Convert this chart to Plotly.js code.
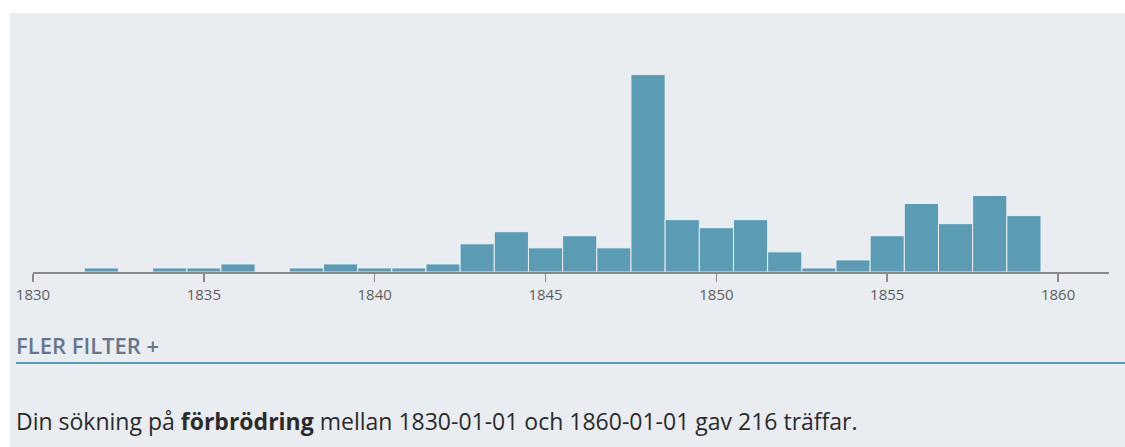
<!DOCTYPE html>
<html>
<head>
<meta charset="utf-8">
<script src="https://cdn.plot.ly/plotly-3.0.1.min.js"></script>
<style>
  html, body { margin: 0; padding: 0; background: #ffffff; width: 1125px; height: 447px; overflow: hidden; }
  #panel { position: absolute; left: 10px; top: 13px; width: 1115px; height: 434px; background: #e9ecf0; }
  #chart { position: absolute; left: 0; top: 0; width: 1115px; height: 434px; }
  #filter { position: absolute; left: 6px; top: 317px; font-family: "Open Sans", sans-serif; font-weight: 600; font-size: 22px; color: #67768a; line-height: normal; white-space: nowrap; }
  #rule { position: absolute; left: 6px; top: 349px; width: 1109px; height: 2px; background: #5d9db5; }
  #summary { position: absolute; left: 6px; top: 392px; font-family: "Open Sans", sans-serif; font-size: 23px; color: #2b2b2b; line-height: normal; white-space: nowrap; }
</style>
</head>
<body>
<div id="panel">
  <div id="chart"></div>
  <div id="filter">FLER FILTER +</div>
  <div id="rule"></div>
  <div id="summary">Din sökning på <b>förbrödring</b> mellan 1830-01-01 och 1860-01-01 gav 216 träffar.</div>
</div>
<script>
const years = [1832, 1834, 1835, 1836, 1838, 1839, 1840, 1841, 1842, 1843, 1844, 1845, 1846, 1847, 1848, 1849, 1850, 1851, 1852, 1853, 1854, 1855, 1856, 1857, 1858, 1859];
const hits  = [1, 1, 1, 2, 1, 2, 1, 1, 2, 7, 10, 6, 9, 6, 49, 13, 11, 13, 5, 1, 3, 9, 17, 12, 19, 14];
const tickYears = [1830, 1835, 1840, 1845, 1850, 1855, 1860];
const tickLabels = ['1830', '1835', '1840', '1845', '1850', '1855', '1860'];

const trace = {
  type: 'bar',
  x: years,
  y: hits,
  width: 1,
  marker: { color: '#5b9cb4', line: { color: 'rgba(240,244,247,0.9)', width: 1 } },
  hoverinfo: 'x+y'
};

const layout = {
  width: 1115,
  height: 434,
  margin: { l: 23, r: 16, t: 31, b: 175, pad: 0 },
  paper_bgcolor: '#e9ecf0',
  plot_bgcolor: '#e9ecf0',
  showlegend: false,
  bargap: 0,
  xaxis: {
    range: [1830, 1861.49],
    tickvals: tickYears,
    ticktext: tickLabels,
    showgrid: false,
    zeroline: false,
    showline: true,
    linecolor: '#8a8a8a',
    linewidth: 1.5,
    ticks: 'outside',
    ticklen: 8,
    tickwidth: 1.5,
    tickcolor: '#8a8a8a',
    tickfont: { family: 'Open Sans, sans-serif', size: 15, color: '#606060' },
    fixedrange: true
  },
  yaxis: {
    range: [0, 56.6],
    visible: false,
    showgrid: false,
    zeroline: false,
    fixedrange: true
  }
};

Plotly.newPlot('chart', [trace], layout, { displayModeBar: false, staticPlot: true });
</script>
</body>
</html>
